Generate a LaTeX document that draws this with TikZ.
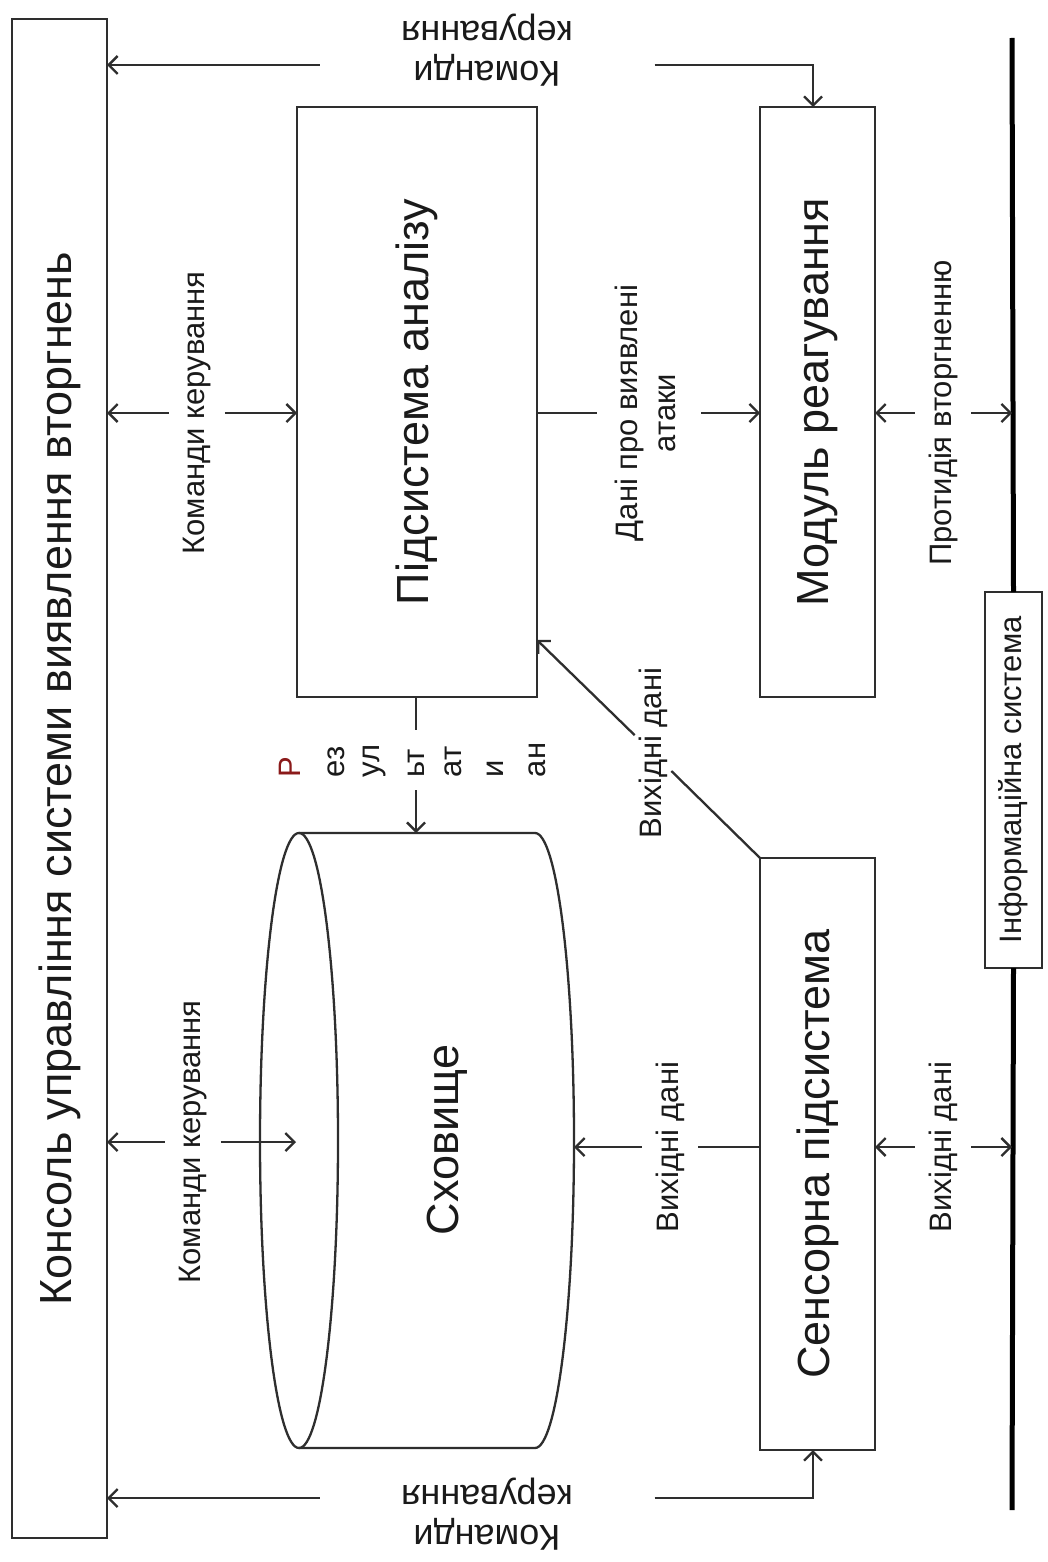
\documentclass[tikz,border=0pt]{standalone}
\usepackage{fontspec}
\setmainfont{Liberation Sans}
\usetikzlibrary{arrows.meta}

\definecolor{lineC}{HTML}{2E2E2E}
\definecolor{textC}{HTML}{1A1A1A}
\definecolor{redC}{HTML}{8B1A1A}

\newcommand\fbig{\fontsize{45}{52}\selectfont}
\newcommand\ftop{\fontsize{36}{40}\selectfont}
\newcommand\fsmall{\fontsize{31}{38}\selectfont}
\newcommand\finfo{\fontsize{31}{36}\selectfont}

\begin{document}
\begin{tikzpicture}[x=1pt,y=-1pt,
  every node/.style={inner sep=0pt, outer sep=0pt, text=textC},
  box/.style={draw=lineC, line width=2.3pt},
  conn/.style={draw=lineC, line width=2.3pt},
  tipped/.style={conn, -{Straight Barb[length=9pt,width=18pt]}},
  tippedback/.style={conn, {Straight Barb[length=9pt,width=18pt]}-},
  bus/.style={draw=black, line width=5pt},
  lbl/.style={inner xsep=14pt, inner ysep=4pt},
  piece/.style={inner xsep=4pt, inner ysep=13pt}
]
\fill[white] (0,0) rectangle (1048,1562);
\useasboundingbox (0,0) rectangle (1048,1562);

% main blocks
\node[box, minimum width=95, minimum height=1519] (con) at (59.5,778.5)
  {\rotatebox{90}{\fbig Консоль управління системи виявлення вторгнень}};
\node[box, minimum width=240, minimum height=590] (ana) at (417,402)
  {\rotatebox{90}{\fbig Підсистема аналізу}};
\node[box, minimum width=115, minimum height=590] (mod) at (817.5,402)
  {\rotatebox{90}{\fbig Модуль реагування}};
\node[box, minimum width=115, minimum height=592] (sen) at (817.5,1154)
  {\rotatebox{90}{\fbig Сенсорна підсистема}};

% storage cylinder
\coordinate (cylTL) at (299,833);
\coordinate (cylTR) at (535,833);
\coordinate (cylBL) at (299,1448);
\coordinate (cylIn) at (296,1142);
\coordinate (cylOut) at (574,1147);
\draw[box] (299,1140.5) ellipse [x radius=39pt, y radius=307.5pt];
\draw[box] (cylTL) -- (cylTR) arc[start angle=90, end angle=-90, x radius=39pt, y radius=307.5pt] -- (cylBL);
\node (cyl) at (447,1140) {\rotatebox{90}{\fbig Сховище}};

% information system bus
\coordinate (busT) at (1012,38);
\coordinate (busB) at (1012,1510);
\node[box, fill=white, minimum width=57, minimum height=376] (info) at (1013.5,780)
  {\rotatebox{90}{\finfo Інформаційна система}};
\draw[bus] (busT) -- (info.north);
\draw[bus] (info.south) -- (busB);

% commands: console <-> analysis
\node[lbl] (kk1) at (197,413) {\rotatebox{90}{\fsmall Команди керування}};
\draw[tippedback] (con.east |- kk1) -- (kk1.west);
\draw[tipped] (kk1.east) -- (ana.west |- kk1);

% commands: console <-> storage
\node[lbl] (kk2) at (193,1142) {\rotatebox{90}{\fsmall Команди керування}};
\draw[tippedback] (con.east |- kk2) -- (kk2.west);
\draw[tipped] (kk2.east) -- (cylIn);

% commands along the top edge
\coordinate (tk) at (813,65);
\node[minimum width=335] (kt) at (487,50)
  {\rotatebox{180}{\ftop\begin{tabular}{@{}c@{}}Команди\\керування\end{tabular}}};
\draw[tippedback] (con.east |- tk) -- (kt.west |- tk);
\draw[tipped] (kt.east |- tk) -- (tk) -- (mod.north -| tk);

% commands along the bottom edge
\coordinate (bk) at (813,1498);
\node[minimum width=335] (kb) at (487,1513)
  {\rotatebox{180}{\ftop\begin{tabular}{@{}c@{}}Команди\\керування\end{tabular}}};
\draw[tippedback] (con.east |- bk) -- (kb.west |- bk);
\draw[tipped] (kb.east |- bk) -- (bk) -- (sen.south -| bk);

% analysis results into storage
\node[piece] (r1) at (290,760) {\rotatebox{90}{\fsmall\makebox[34pt][l]{\color{redC}Р}}};
\node[piece] (r2) at (336,760) {\rotatebox{90}{\fsmall\makebox[34pt][l]{ез}}};
\node[piece] (r3) at (375,760) {\rotatebox{90}{\fsmall\makebox[34pt][l]{ул}}};
\node[piece] (r4) at (416,760) {\rotatebox{90}{\fsmall\makebox[34pt][l]{ьт}}};
\node[piece] (r5) at (453,760) {\rotatebox{90}{\fsmall\makebox[34pt][l]{ат}}};
\node[piece] (r6) at (495,760) {\rotatebox{90}{\fsmall\makebox[34pt][l]{и}}};
\node[piece] (r7) at (537,760) {\rotatebox{90}{\fsmall\makebox[34pt][l]{ан}}};
\draw[conn] (r4 |- ana.south) -- (r4.north);
\draw[tipped] (r4.south) -- (r4.south |- cylTL);

% detected attacks: analysis -> response
\node[lbl] (dp) at (649,413)
  {\rotatebox{90}{\fsmall\begin{tabular}{@{}c@{}}Дані про виявлені\\атаки\end{tabular}}};
\draw[conn] (ana.east |- dp) -- (dp.west);
\draw[tipped] (dp.east) -- (mod.west |- dp);

% counteraction: response <-> bus
\node[lbl] (pr) at (943,413) {\rotatebox{90}{\fsmall Протидія вторгненню}};
\draw[tippedback] (mod.east |- pr) -- (pr.west);
\draw[tipped] (pr.east) -- (busT |- pr);

% sensor data: sensor -> storage
\node[lbl] (vd1) at (670,1147) {\rotatebox{90}{\fsmall Вихідні дані}};
\draw[tipped] (vd1.west) -- (cylOut);
\draw[conn] (sen.west |- vd1) -- (vd1.east);

% sensor data: sensor <-> bus
\node[lbl] (vd2) at (943,1147) {\rotatebox{90}{\fsmall Вихідні дані}};
\draw[tippedback] (sen.east |- vd2) -- (vd2.west);
\draw[tipped] (vd2.east) -- (busT |- vd2);

% sensor data: sensor -> analysis (diagonal)
\coordinate (anaIn) at (537,640);
\node[inner xsep=4pt, inner ysep=2pt] (vd3) at (653,753) {\rotatebox{90}{\fsmall Вихідні дані}};
\draw[conn] (sen.north west) -- (vd3);
\draw[tipped] (vd3) -- (anaIn);
\end{tikzpicture}
\end{document}
